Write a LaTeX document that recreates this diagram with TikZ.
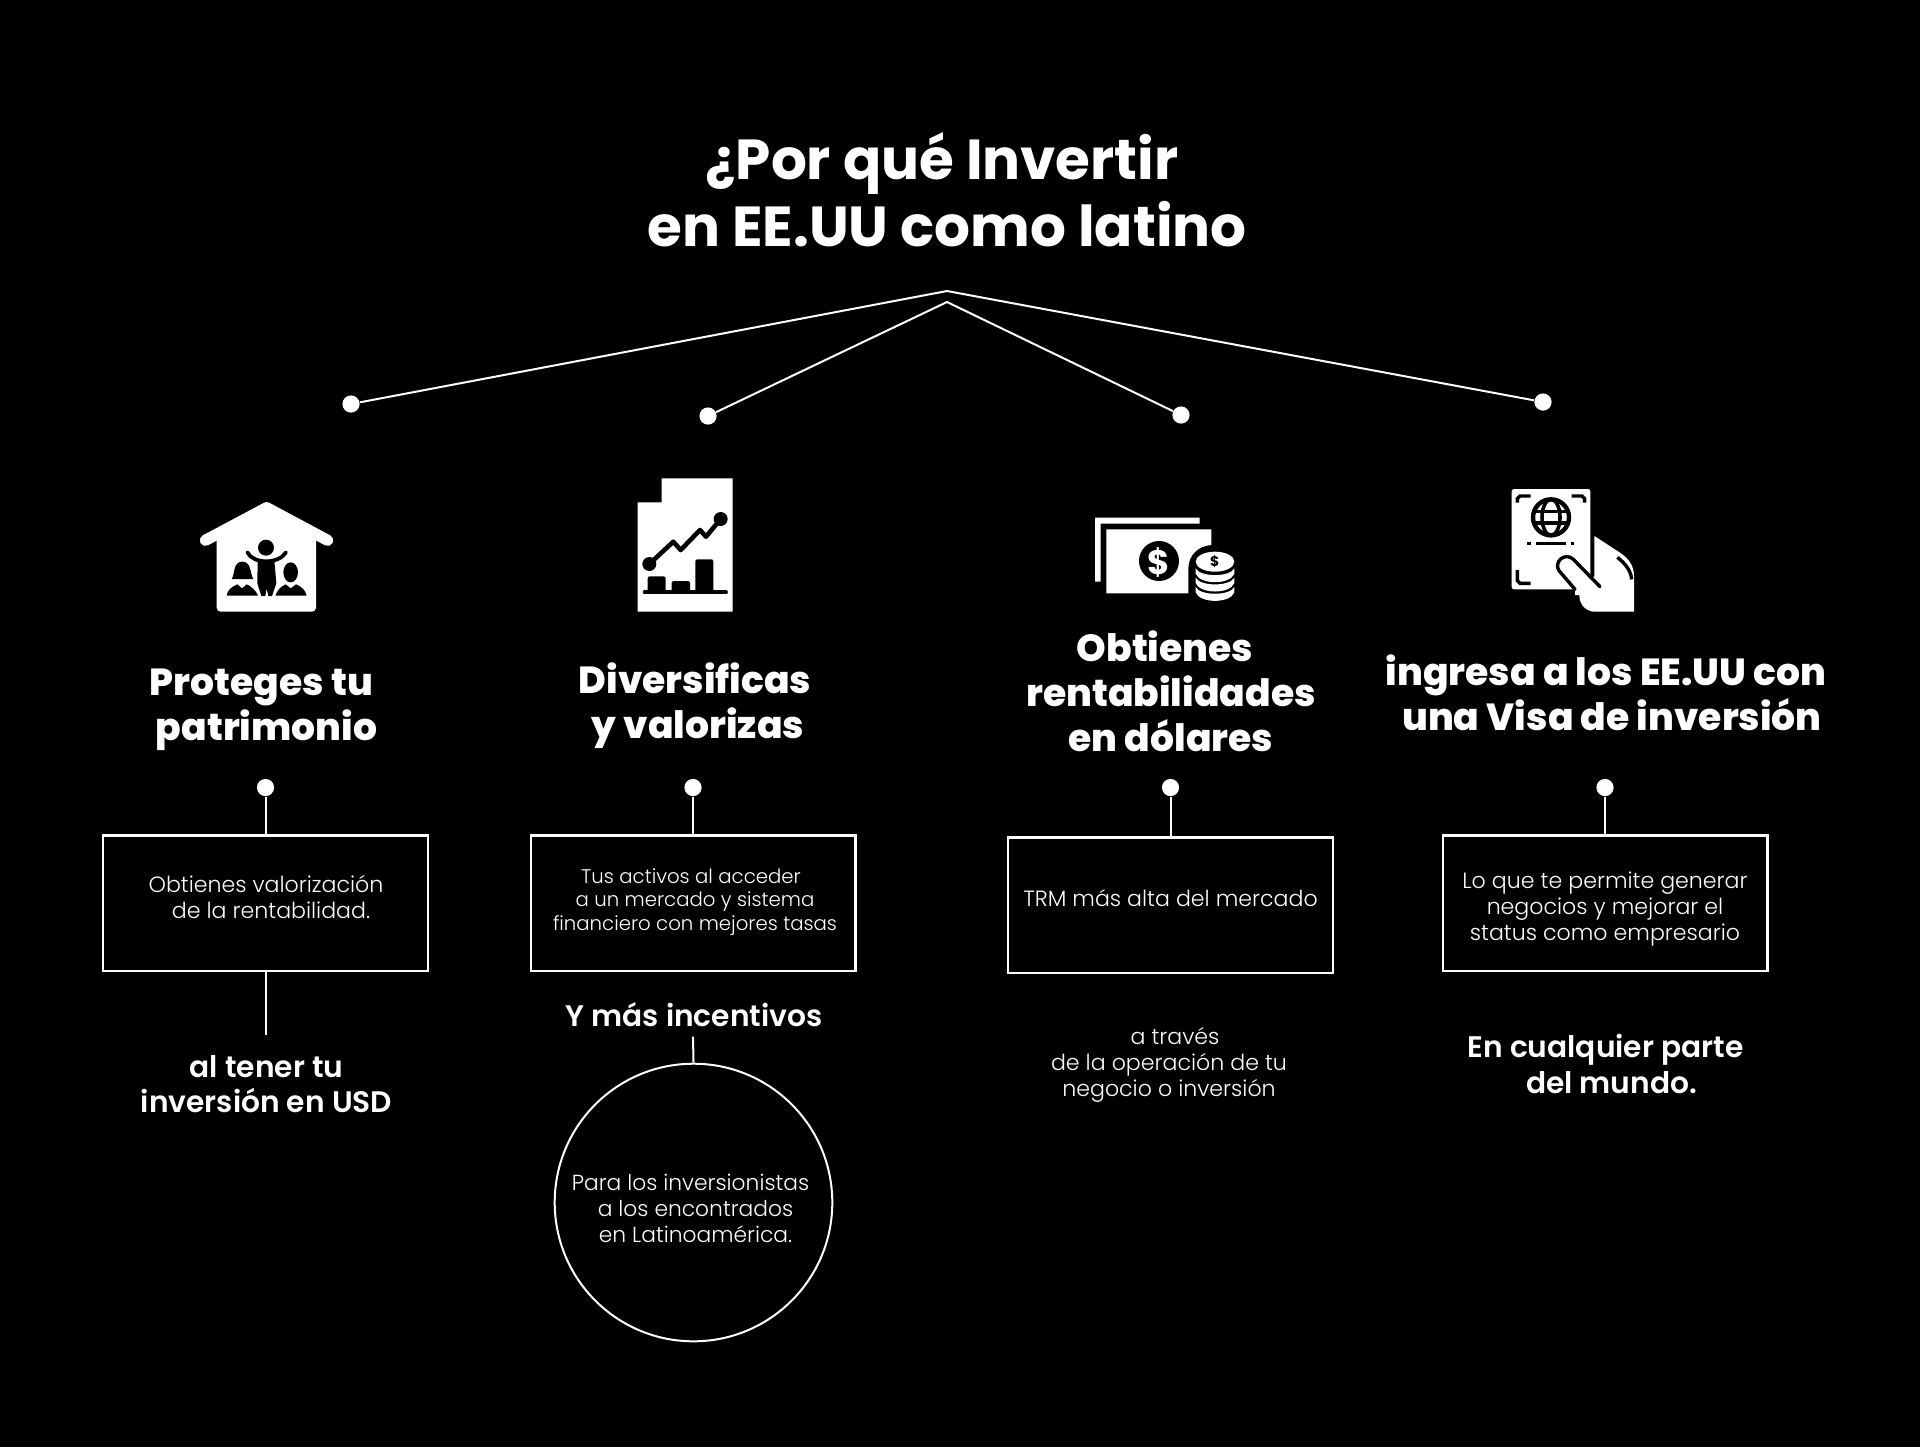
\documentclass[tikz,border=0pt]{standalone}
\usepackage{fontspec}
\setmainfont{Poppins}
\newfontfamily\plight{Poppins Light}
\newfontfamily\psemi{Poppins SemiBold}
\newfontfamily\pext{Poppins ExtraBold}
\begin{document}
\begin{tikzpicture}[x=.5pt,y=-.5pt,
  wire/.style={draw=white,line width=1pt},
  dotn/.style={circle,fill=white,draw=none,minimum size=8.6pt,inner sep=0pt},
  boxn/.style={draw=white,line width=1.1pt,fill=none,minimum width=162.4pt,minimum height=67.6pt,inner sep=0pt},
  ringn/.style={circle,draw=white,line width=1pt,minimum size=138.8pt,inner sep=0pt},
  titlet/.style={text=white,align=center,inner sep=0pt,font=\bfseries\fontsize{28.2}{33.4}\selectfont},
  headt/.style={text=white,align=center,inner sep=0pt,font=\pext\fontsize{18.85}{22.6}\selectfont},
  subt/.style={text=white,align=center,inner sep=0pt,font=\psemi\fontsize{14.85}{17.6}\selectfont},
  bodyt/.style={text=white,align=center,inner sep=0pt,font=\plight\fontsize{11.05}{13}\selectfont},
  smallt/.style={text=white,align=center,inner sep=0pt,font=\plight\fontsize{9.85}{11.7}\selectfont},
  circt/.style={text=white,align=center,inner sep=0pt,font=\plight\fontsize{10.9}{13}\selectfont},
  wf/.style={fill=white,draw=none},
  bf/.style={fill=black,draw=none},
  ws/.style={draw=white,line cap=round,line join=round},
  bs/.style={draw=black,line cap=round,line join=round}
]
\fill[black] (0,0) rectangle (1920,1447);
\useasboundingbox (0,0) rectangle (1920,1447);

% title
\node[titlet] (title) at (947,190) {¿Por qué Invertir\hspace*{5pt}\\en EE.UU como latino};

% top connectors
\coordinate (apexA) at (947,291);
\coordinate (apexB) at (947,302);
\node[dotn] (d1) at (351,404) {};
\node[dotn] (d2) at (708,416) {};
\node[dotn] (d3) at (1181,415) {};
\node[dotn] (d4) at (1543,402) {};
\draw[wire,line join=miter] (d1) -- (apexA) -- (d4);
\draw[wire] (d2) -- (apexB) -- (d3);

% house icon
\begin{scope}[shift={(190,495)},scale=.33333]
  \fill[wf,rounded corners=2pt] (80,120) -- (80,350) -- (378,350) -- (378,120) -- cycle;
  \fill[wf] (80,140) -- (230,40) -- (378,140) -- cycle;
  \draw[ws,line width=5.6pt] (46,136) -- (230,38) -- (413,136);
  \fill[bf] (228,158) circle[radius=24];
  \draw[bs,line width=1.9pt] (172,172) .. controls (190,208) and (266,208) .. (288,172);
  \fill[bf] (203,196) -- (253,196) -- (259,265) -- (246,303) -- (235,303) -- (230,280) -- (226,303) -- (214,303) -- (202,265) -- cycle;
  \fill[bf] (125,252) .. controls (135,240) and (128,200) .. (157,200) .. controls (186,200) and (180,240) .. (190,252) -- cycle;
  \fill[bf] (110,302) .. controls (112,285) and (125,275) .. (142,268) -- (156,280) -- (170,268) .. controls (185,275) and (197,285) .. (204,302) -- cycle;
  \fill[bf] (302,232) ellipse[x radius=22,y radius=30];
  \fill[bf] (256,302) .. controls (262,285) and (272,275) .. (287,268) -- (302,280) -- (318,268) .. controls (335,275) and (346,285) .. (350,302) -- cycle;
\end{scope}

% chart icon
\begin{scope}[shift={(630,470)},scale=.33333]
  \fill[wf] (23,425) -- (308,425) -- (308,25) -- (95,25) -- (95,97) -- (23,97) -- cycle;
  \draw[bs,line width=2.3pt] (58,282) -- (130,215) -- (152,240) -- (210,180) -- (228,200) -- (272,147);
  \fill[bf] (58,282) circle[radius=21];
  \fill[bf] (272,147) circle[radius=21];
  \fill[bf,rounded corners=1pt] (53,367) -- (53,319) -- (107,319) -- (107,367) -- cycle;
  \fill[bf,rounded corners=1pt] (125,367) -- (125,333) -- (180,333) -- (180,367) -- cycle;
  \fill[bf,rounded corners=1pt] (196,367) -- (196,268) -- (250,268) -- (250,367) -- cycle;
  \draw[bs,line width=2pt] (44,367) -- (288,367);
\end{scope}

% money icon
\begin{scope}[shift={(1085,505)},scale=.33333]
  \fill[wf] (30,38) -- (344,38) -- (344,56) -- (47,56) -- (47,230) -- (30,230) -- cycle;
  \fill[wf] (64,73) -- (379,73) -- (379,120) .. controls (340,122) and (310,150) .. (310,190) -- (310,265) -- (64,265) -- cycle;
  \fill[bf] (222,168) circle[radius=60];
  \node[text=white,inner sep=0pt,font=\bfseries\fontsize{17}{17}\selectfont] (moneyA) at (222,171) {\$};
  \fill[wf] (390,170) ellipse[x radius=58,y radius=30];
  \node[text=black,inner sep=0pt,font=\bfseries\fontsize{7}{7}\selectfont] (moneyB) at (389,169) {\$};
  \foreach \yy in {190,218,246}{
    \fill[wf] (332,\yy) .. controls (345,\yy+27) and (435,\yy+27) .. (448,\yy) -- (448,\yy+16) .. controls (435,\yy+50) and (345,\yy+50) .. (332,\yy+16) -- cycle;
  }
\end{scope}

% passport icon
\begin{scope}[shift={(1490,480)},scale=.33333]
  \fill[wf,rounded corners=1.2pt] (65,27) -- (301,27) -- (301,328) -- (65,328) -- cycle;
  \fill[wf] (313,168) -- (390,218) .. controls (420,238) and (432,260) .. (432,290) -- (432,395) -- (310,395) .. controls (285,392) and (268,372) .. (268,345) -- (268,326) -- (260,300) -- (313,290) -- cycle;
  \draw[bs,line width=1.7pt,line cap=butt,line join=miter] (122,48) -- (90,48) -- (82,56) -- (82,68);
  \draw[bs,line width=1.7pt,line cap=butt,line join=miter] (245,48) -- (276,48) -- (284,56) -- (284,68);
  \draw[bs,line width=1.7pt,line cap=butt,line join=miter] (82,270) -- (82,302) -- (90,310) -- (122,310);
  \draw[black,line width=2.2pt] (183,112) circle[radius=54];
  \draw[black,line width=1.8pt] (183,112) ellipse[x radius=27,y radius=54];
  \draw[black,line width=1.8pt] (135,95) -- (231,95) (135,129) -- (231,129);
  \draw[black,line width=1.4pt] (112,190) -- (122,190) (138,190) -- (228,190) (243,190) -- (253,190);
  \fill[wf] (255,328) -- (207,272) .. controls (190,245) and (225,215) .. (250,238) -- (330,320) -- (330,345) -- (255,345) -- cycle;
  \draw[bs,line width=1.7pt] (255,328) -- (207,272) .. controls (190,245) and (225,215) .. (250,238) -- (330,320);
  \draw[bs,line width=1.7pt,line cap=butt] (382,232) .. controls (405,250) and (422,270) .. (425,298);
\end{scope}

% headings
\node[headt] (h1) at (266.5,710) {Proteges tu\hspace*{5pt}\\patrimonio};
\node[headt] (h2) at (698,706) {Diversificas\hspace*{3pt}\\y valorizas};
\node[headt] (h3) at (1171,691) {Obtienes\hspace*{6pt}\\rentabilidades\\en dólares};
\node[headt] (h4) at (1612,692.5) {ingresa a los EE.UU con\hspace*{6pt}\\una Visa de inversión};

% dots under headings
\node[dotn] (e1) at (265.5,787.5) {};
\node[dotn] (e2) at (693,787.5) {};
\node[dotn] (e3) at (1170.5,787.5) {};
\node[dotn] (e4) at (1605,787.5) {};

% boxes
\node[boxn] (b1) at (265.5,903) {};
\node[boxn] (b2) at (693,903) {};
\node[boxn] (b3) at (1170.5,905) {};
\node[boxn] (b4) at (1605,903) {};
\draw[wire] (e1) -- (b1);
\draw[wire] (e2) -- (b2);
\draw[wire] (e3) -- (b3);
\draw[wire] (e4) -- (b4);

% box texts
\node[bodyt] (t1) at (266,897) {Obtienes valorización\\[0pt]\hspace*{5pt}de la rentabilidad.};
\node[smallt] (t2) at (695,902) {Tus activos al acceder\hspace*{4pt}\\a un mercado y sistema\\financiero con mejores tasas};
\node[bodyt] (t3) at (1170.5,898) {TRM más alta del mercado};
\node[bodyt] (t4) at (1605,909) {Lo que te permite generar\\negocios y mejorar el\hspace*{4pt}\\status como empresario};

% lower texts
\coordinate (s1) at (265.5,1035);
\draw[wire] (b1.south) ++(0,-2) coordinate (s0) (s0) -- (s1);
\node[subt] (u1) at (266.5,1084.5) {al tener tu\\inversión en USD};
\node[subt] (u2) at (694,1015) {Y más incentivos};
\node[ringn] (r) at (693.5,1202.5) {};
\draw[wire] (u2.south) ++(-1,9) coordinate (s2) (s2) -- (r.north);
\node[circt] (t5) at (695.5,1208) {Para los inversionistas\hspace*{5pt}\\a los encontrados\\en Latinoamérica.};
\node[bodyt] (t6) at (1169,1065) {a través\hspace*{-6pt}\\de la operación de tu\hspace*{6pt}\\negocio o inversión};
\node[subt] (u4) at (1611.5,1064) {En cualquier parte\hspace*{6pt}\\del mundo.};
\end{tikzpicture}
\end{document}
